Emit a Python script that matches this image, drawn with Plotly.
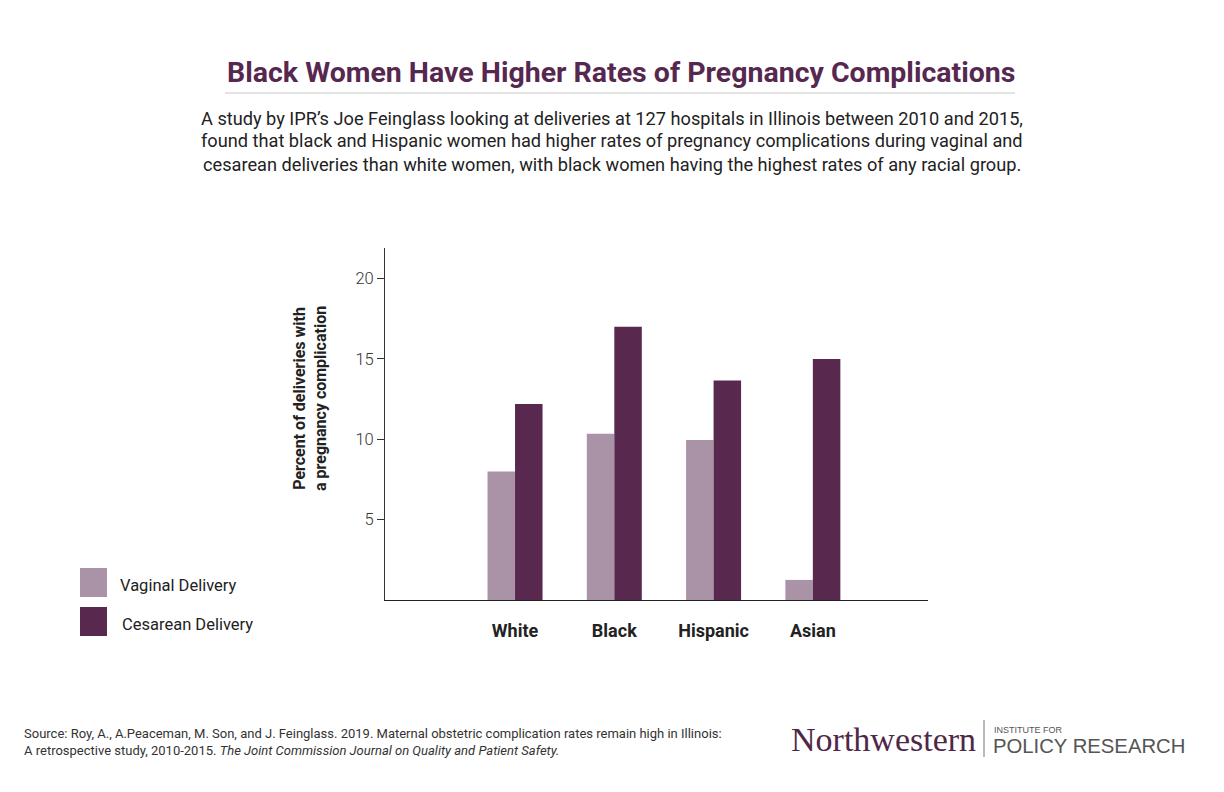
import plotly.graph_objects as go

categories = ["White", "Black", "Hispanic", "Asian"]
vaginal = [8.0, 10.35, 9.95, 1.25]
cesarean = [12.2, 17.0, 13.65, 15.0]
y_ticks = [5, 10, 15, 20]
series_names = ["Vaginal Delivery", "Cesarean Delivery"]

title_text = "Black Women Have Higher Rates of Pregnancy Complications"
subtitle_lines = [
    "A study by IPR\u2019s Joe Feinglass looking at deliveries at 127 hospitals in Illinois between 2010 and 2015,",
    "found that black and Hispanic women had higher rates of pregnancy complications during vaginal and",
    "cesarean deliveries than white women, with black women having the highest rates of any racial group.",
]
source_lines = [
    "Source: Roy, A., A.Peaceman, M. Son, and J. Feinglass. 2019. Maternal obstetric complication rates remain high in Illinois:",
    "A retrospective study, 2010-2015. <i>The Joint Commission Journal on Quality and Patient Safety.</i>",
]

W, H = 1224, 792
C_VAG = "#aa93a7"
C_CES = "#58284f"
PURPLE = "#57284f"
FONT = "Roboto"


def px(x):
    return x / W


def py(y):
    return 1 - y / H


fig = go.Figure()
fig.add_trace(go.Bar(x=categories, y=vaginal, name=series_names[0],
                     marker=dict(color=C_VAG, line=dict(width=0)), showlegend=False))
fig.add_trace(go.Bar(x=categories, y=cesarean, name=series_names[1],
                     marker=dict(color=C_CES, line=dict(width=0)), showlegend=False))

annotations = []
shapes = []

# title
annotations.append(dict(text="<b>" + title_text + "</b>", x=px(621), y=py(72), xref="paper", yref="paper",
                        xanchor="center", yanchor="middle", showarrow=False,
                        font=dict(family=FONT, size=28.5, color=PURPLE)))
shapes.append(dict(type="line", xref="paper", yref="paper", x0=px(225), x1=px(1015), y0=py(93), y1=py(93),
                   line=dict(color="#c8c8c8", width=1)))
# subtitle
for i, line in enumerate(subtitle_lines):
    annotations.append(dict(text=line, x=px(612), y=py(118 + 23 * i), xref="paper", yref="paper",
                            xanchor="center", yanchor="middle", showarrow=False,
                            font=dict(family=FONT, size=18.2, color="#222222")))

# y-axis title
annotations.append(dict(text="<b>Percent of deliveries with<br>a pregnancy complication</b>",
                        x=px(310), y=py(399), xref="paper", yref="paper", textangle=-90,
                        xanchor="center", yanchor="middle", showarrow=False,
                        font=dict(family=FONT, size=16, color="#222222")))

# legend
for i, (nm, col) in enumerate(zip(series_names, [C_VAG, C_CES])):
    y0 = 568 + 39 * i
    shapes.append(dict(type="rect", xref="paper", yref="paper", x0=px(80), x1=px(107),
                       y0=py(y0), y1=py(y0 + 29), fillcolor=col, line=dict(width=0)))
    annotations.append(dict(text=nm, x=px(118 + 2 * i), y=py(y0 + 17), xref="paper", yref="paper",
                            xanchor="left", yanchor="middle", showarrow=False,
                            font=dict(family=FONT, size=16.5, color="#222222")))

# source
for i, line in enumerate(source_lines):
    annotations.append(dict(text=line, x=px(22), y=py(733 + 17 * i), xref="paper", yref="paper",
                            xanchor="left", yanchor="middle", showarrow=False,
                            font=dict(family=FONT, size=13, color="#333333")))

# logo
annotations.append(dict(text="Northwestern", x=px(789), y=py(739), xref="paper", yref="paper",
                        xanchor="left", yanchor="middle", showarrow=False,
                        font=dict(family="Liberation Serif", size=34, color="#4f2747")))
shapes.append(dict(type="line", xref="paper", yref="paper", x0=px(984), x1=px(984), y0=py(720), y1=py(757),
                   line=dict(color="#777777", width=1)))
annotations.append(dict(text="INSTITUTE FOR", x=px(992), y=py(730), xref="paper", yref="paper",
                        xanchor="left", yanchor="middle", showarrow=False,
                        font=dict(family="Liberation Sans", size=9, color="#555555")))
annotations.append(dict(text="POLICY RESEARCH", x=px(991), y=py(746), xref="paper", yref="paper",
                        xanchor="left", yanchor="middle", showarrow=False,
                        font=dict(family="Liberation Sans", size=20.3, color="#555555")))

fig.update_layout(
    width=W, height=H,
    margin=dict(l=0, r=0, t=0, b=0),
    paper_bgcolor="white", plot_bgcolor="white",
    barmode="group", bargap=0.446, bargroupgap=0,
    annotations=annotations, shapes=shapes,
    xaxis=dict(domain=[px(385), px(928)], range=[-1.31, 4.16], showgrid=False, zeroline=False,
               showline=True, linecolor="#222222", linewidth=1.3, ticks="",
               tickfont=dict(family=FONT, size=18, color="#222222", weight="bold"),
               ticklabelstandoff=14),
    yaxis=dict(domain=[py(600), py(248)], range=[0, 21.9], showgrid=False, zeroline=False,
               showline=True, linecolor="#333333", linewidth=1, ticks="outside", ticklen=7,
               tickcolor="#333333", tickvals=y_ticks,
               tickfont=dict(family=FONT, size=16.5, color="#333333", weight=300)),
)

fig.write_html("out.html")
